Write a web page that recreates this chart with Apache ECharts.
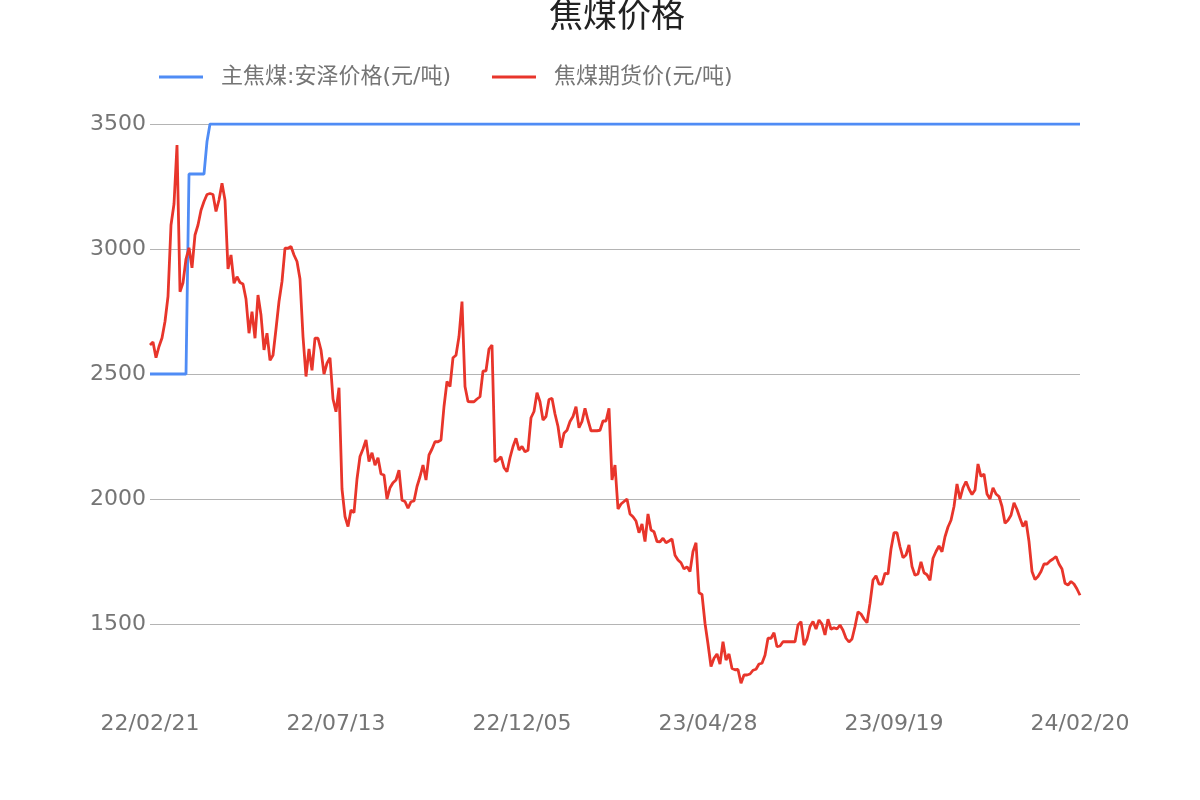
<!DOCTYPE html>
<html>
<head>
<meta charset="utf-8">
<script src="https://cdn.jsdelivr.net/npm/echarts@6/dist/echarts.min.js"></script>
<style>html,body{margin:0;padding:0;background:#fff;}#c{width:1200px;height:800px;}</style>
</head>
<body>
<div id="c"></div>
<script>
const titleText = '焦煤价格';
const seriesNames = ['主焦煤:安泽价格(元/吨)', '焦煤期货价(元/吨)'];
const tickLabels = ['22/02/21', '22/07/13', '22/12/05', '23/04/28', '23/09/19', '24/02/20'];
const pointsPerSegment = 62;

const anzePrice = [
2500,2500,2500,2500,2500,2500,2500,2500,2500,2500,
2500,2500,2500,3300,3300,3300,3300,3300,3300,3430,
3500,3500,3500,3500,3500,3500,3500,3500,3500,3500,
3500,3500,3500,3500,3500,3500,3500,3500,3500,3500,
3500,3500,3500,3500,3500,3500,3500,3500,3500,3500,
3500,3500,3500,3500,3500,3500,3500,3500,3500,3500,
3500,3500,3500,3500,3500,3500,3500,3500,3500,3500,
3500,3500,3500,3500,3500,3500,3500,3500,3500,3500,
3500,3500,3500,3500,3500,3500,3500,3500,3500,3500,
3500,3500,3500,3500,3500,3500,3500,3500,3500,3500,
3500,3500,3500,3500,3500,3500,3500,3500,3500,3500,
3500,3500,3500,3500,3500,3500,3500,3500,3500,3500,
3500,3500,3500,3500,3500,3500,3500,3500,3500,3500,
3500,3500,3500,3500,3500,3500,3500,3500,3500,3500,
3500,3500,3500,3500,3500,3500,3500,3500,3500,3500,
3500,3500,3500,3500,3500,3500,3500,3500,3500,3500,
3500,3500,3500,3500,3500,3500,3500,3500,3500,3500,
3500,3500,3500,3500,3500,3500,3500,3500,3500,3500,
3500,3500,3500,3500,3500,3500,3500,3500,3500,3500,
3500,3500,3500,3500,3500,3500,3500,3500,3500,3500,
3500,3500,3500,3500,3500,3500,3500,3500,3500,3500,
3500,3500,3500,3500,3500,3500,3500,3500,3500,3500,
3500,3500,3500,3500,3500,3500,3500,3500,3500,3500,
3500,3500,3500,3500,3500,3500,3500,3500,3500,3500,
3500,3500,3500,3500,3500,3500,3500,3500,3500,3500,
3500,3500,3500,3500,3500,3500,3500,3500,3500,3500,
3500,3500,3500,3500,3500,3500,3500,3500,3500,3500,
3500,3500,3500,3500,3500,3500,3500,3500,3500,3500,
3500,3500,3500,3500,3500,3500,3500,3500,3500,3500,
3500,3500,3500,3500,3500,3500,3500,3500,3500,3500,
3500,3500,3500,3500,3500,3500,3500,3500,3500,3500,
3500
];

const futuresPrice = [
2616,2628,2565,2610,2644,2710,2810,3096,3180,3416,
2829,2865,2960,3005,2925,3056,3096,3155,3190,3218,
3222,3218,3150,3196,3263,3195,2920,2976,2863,2889,
2866,2860,2800,2663,2749,2643,2816,2736,2596,2663,
2555,2575,2680,2790,2870,3003,3003,3010,2976,2950,
2880,2650,2490,2600,2515,2643,2643,2596,2500,2543,
2565,2400,2349,2445,2040,1930,1890,1956,1945,2080,
2170,2200,2236,2150,2185,2135,2165,2100,2096,2000,
2045,2065,2076,2115,1995,1990,1963,1989,1992,2050,
2089,2136,2076,2176,2200,2229,2229,2236,2370,2470,
2450,2565,2575,2650,2790,2450,2390,2389,2389,2400,
2409,2511,2513,2600,2616,2149,2156,2169,2125,2109,
2165,2210,2243,2196,2210,2189,2195,2325,2350,2425,
2389,2316,2330,2398,2403,2340,2290,2205,2263,2275,
2310,2330,2369,2285,2310,2363,2315,2273,2273,2273,
2275,2312,2312,2363,2076,2136,1960,1980,1990,2000,
1940,1929,1912,1865,1900,1830,1940,1876,1869,1830,
1829,1843,1825,1832,1840,1775,1756,1745,1720,1729,
1710,1790,1825,1625,1618,1503,1420,1330,1363,1380,
1340,1429,1356,1380,1322,1317,1318,1263,1296,1296,
1300,1315,1319,1340,1343,1375,1443,1443,1465,1409,
1412,1429,1429,1429,1429,1429,1496,1509,1416,1440,
1490,1510,1480,1516,1500,1456,1519,1479,1485,1480,
1496,1475,1443,1428,1440,1490,1549,1540,1520,1505,
1583,1676,1693,1660,1660,1703,1700,1800,1865,1865,
1809,1765,1776,1816,1730,1695,1700,1749,1705,1697,
1675,1763,1790,1812,1789,1849,1888,1915,1970,2060,
2000,2045,2070,2040,2018,2036,2140,2090,2100,2020,
2000,2045,2020,2010,1970,1903,1915,1935,1985,1958,
1923,1890,1912,1830,1710,1678,1690,1710,1740,1740,
1752,1760,1770,1740,1720,1663,1656,1670,1660,1640,
1615
];

// Category dates: evenly spaced slots between the visible tick dates
function parseDate(s) { const p = s.split('/').map(Number); return Date.UTC(2000 + p[0], p[1] - 1, p[2]); }
function fmtDate(t) {
  const d = new Date(t);
  const pad = n => String(n).padStart(2, '0');
  return pad(d.getUTCFullYear() % 100) + '/' + pad(d.getUTCMonth() + 1) + '/' + pad(d.getUTCDate());
}
const categories = [];
for (let s = 0; s < tickLabels.length - 1; s++) {
  const a = parseDate(tickLabels[s]), b = parseDate(tickLabels[s + 1]);
  const days = (b - a) / 86400000;
  for (let j = 0; j < pointsPerSegment; j++) {
    categories.push(j === 0 ? tickLabels[s] : fmtDate(a + Math.round(j * days / pointsPerSegment) * 86400000));
  }
}
categories.push(tickLabels[tickLabels.length - 1]);

const FONT = "'DejaVu Sans', 'Noto Sans CJK SC', sans-serif";
const chart = echarts.init(document.getElementById('c'), null, { renderer: 'canvas' });
chart.setOption({
  animation: false,
  backgroundColor: '#ffffff',
  title: {
    text: titleText,
    left: 544,
    top: -4,
    textStyle: { fontSize: 34, fontWeight: 'normal', color: '#222222', fontFamily: FONT }
  },
  legend: {
    left: 154,
    top: 61,
    icon: 'rect',
    itemWidth: 44,
    itemHeight: 3,
    itemGap: 41,
    textStyle: { fontSize: 22, color: '#757575', fontFamily: FONT, padding: [0, 0, 0, 13] },
    data: seriesNames
  },
  grid: { left: 150, right: 120, top: 124, bottom: 95, containLabel: false },
  xAxis: {
    type: 'category',
    data: categories,
    boundaryGap: false,
    axisLine: { show: false },
    axisTick: { show: false },
    axisLabel: {
      interval: pointsPerSegment - 1,
      fontSize: 22, color: '#757575', fontFamily: FONT, margin: 8
    },
    splitLine: { show: false }
  },
  yAxis: {
    type: 'value',
    min: 1176,
    max: 3500,
    splitNumber: 5,
    axisLine: { show: false },
    axisTick: { show: false },
    axisLabel: {
      fontSize: 22, color: '#757575', fontFamily: FONT, margin: 4, showMinLabel: false,
      formatter: v => String(v)
    },
    splitLine: { show: true, showMinLine: false, lineStyle: { color: '#b4b4b4', width: 1 } }
  },
  series: [
    {
      name: seriesNames[0],
      type: 'line',
      data: anzePrice,
      showSymbol: false,
      symbol: 'none',
      lineStyle: { color: '#4f8cf5', width: 2.8 },
      itemStyle: { color: '#4f8cf5' }
    },
    {
      name: seriesNames[1],
      type: 'line',
      data: futuresPrice,
      showSymbol: false,
      symbol: 'none',
      lineStyle: { color: '#e8352b', width: 2.8 },
      itemStyle: { color: '#e8352b' }
    }
  ]
});
</script>
</body>
</html>
